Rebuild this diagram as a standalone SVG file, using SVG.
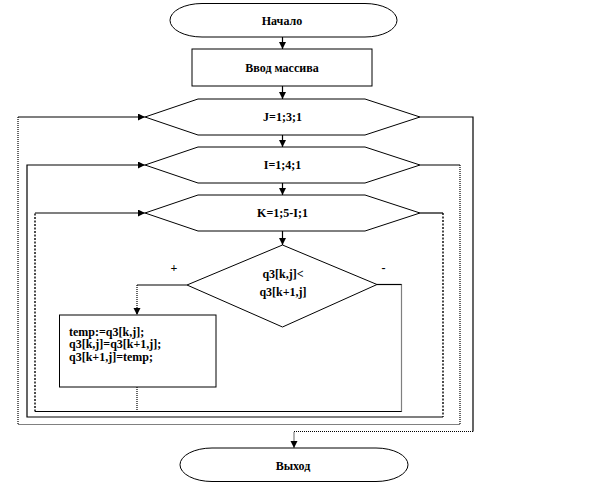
<svg xmlns="http://www.w3.org/2000/svg" width="612" height="486" viewBox="0 0 612 486">
<style>
.shape{fill:#fff;stroke:#000;stroke-width:1}
.t{font-family:"Liberation Serif","Times New Roman",serif;font-size:12px;font-weight:bold;fill:#000}
.c{text-anchor:middle}
.ln{fill:none;stroke:#000;stroke-width:1.2}
.dt{fill:none;stroke:#000;stroke-width:1.2;stroke-dasharray:1 1}
.dt2{fill:none;stroke:#000;stroke-width:1.4;stroke-dasharray:2 1.5}
</style>
<defs>
<marker id="arr" markerUnits="userSpaceOnUse" markerWidth="8" markerHeight="8" refX="7" refY="3.5" orient="auto">
<path d="M0,0 L7,3.5 L0,7 z" fill="#000"/>
</marker>
</defs>
<rect width="612" height="486" fill="#fff"/>
<g id="connectors">
<path class="ln" d="M282.5,37 V49" marker-end="url(#arr)"/>
<path class="ln" d="M282.5,86 V99" marker-end="url(#arr)"/>
<path class="ln" d="M282.5,135 V147" marker-end="url(#arr)"/>
<path class="ln" d="M282.5,183 V195" marker-end="url(#arr)"/>
<path class="ln" d="M282.5,231 V245" marker-end="url(#arr)"/>
<path class="ln" d="M187,285 H137"/>
<path class="dt" d="M137,285 V315" marker-end="url(#arr)"/>
<path class="ln" d="M377,284.5 H401.5"/>
<path class="dt" d="M401.5,284.5 V411.5"/>
<path class="dt" d="M137,387 V411.5"/>
<path class="ln" d="M401.5,411.5 H35"/>
<path class="dt2" d="M35,411.5 V213"/>
<path class="ln" d="M35,213 H145" marker-end="url(#arr)"/>
<path class="ln" d="M420,213 H443"/>
<path class="dt2" d="M443,213 V417"/>
<path class="ln" d="M443,417 H27 V165 H145" marker-end="url(#arr)"/>
<path class="ln" d="M420,165 H460"/>
<path class="dt" d="M460,165 V424.5 H18 V117"/>
<path class="ln" d="M18,117 H145" marker-end="url(#arr)"/>
<path class="ln" d="M420,117 H473 V431.5"/>
<path class="dt" d="M473,431.5 H294 V448" marker-end="url(#arr)"/>
</g>
<g id="start">
<rect class="shape" x="170" y="3.5" width="227" height="33.5" rx="32" ry="16.75"/>
<text class="t c" x="282" y="24.5">Начало</text>
</g>
<g id="input">
<rect class="shape" x="192" y="49" width="180" height="37"/>
<text class="t c" x="282" y="71.5">Ввод массива</text>
</g>
<g id="loopJ">
<polygon class="shape" points="145,117 198,99 365,99 420,117 365,135 198,135"/>
<text class="t c" x="282.5" y="121">J=1;3;1</text>
</g>
<g id="loopI">
<polygon class="shape" points="145,165 198,147 365,147 420,165 365,183 198,183"/>
<text class="t c" x="282.5" y="169">I=1;4;1</text>
</g>
<g id="loopK">
<polygon class="shape" points="145,213 198,195 365,195 420,213 365,231 198,231"/>
<text class="t c" x="282.5" y="217">K=1;5-I;1</text>
</g>
<g id="cond">
<polygon class="shape" points="282.5,245 377,284.5 282.5,327 187,285"/>
<text class="t c" x="283" y="277.5">q3[k,j]&lt;</text>
<text class="t c" x="283" y="296">q3[k+1,j]</text>
<text class="t c" x="174" y="271.5">+</text>
<text class="t c" x="383.5" y="272">-</text>
</g>
<g id="swap">
<rect class="shape" x="59.5" y="315" width="156.5" height="72"/>
<text class="t" x="69" y="335.5">temp:=q3[k,j];</text>
<text class="t" x="69" y="348">q3[k,j]=q3[k+1,j];</text>
<text class="t" x="69" y="360.5">q3[k+1,j]=temp;</text>
</g>
<g id="exit">
<rect class="shape" x="180" y="448" width="228" height="33.5" rx="32" ry="16.75"/>
<text class="t c" x="293" y="469.5">Выход</text>
</g>
</svg>
